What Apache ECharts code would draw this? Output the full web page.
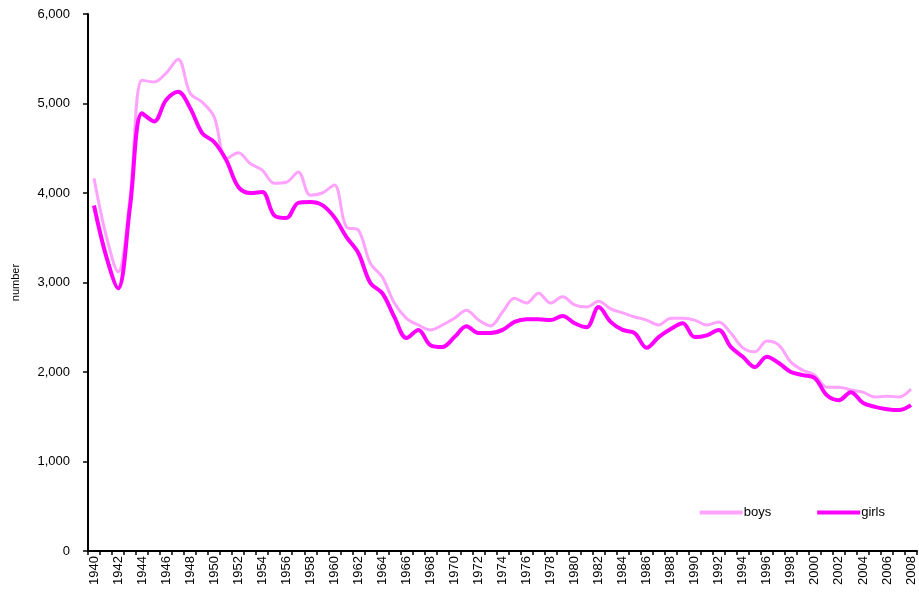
<!DOCTYPE html>
<html>
<head>
<meta charset="utf-8">
<script src="https://cdn.jsdelivr.net/npm/echarts@6/dist/echarts.min.js"></script>
<style>
  html, body { margin: 0; padding: 0; background: #fff; }
  #main { width: 919px; height: 596px; }
</style>
</head>
<body>
<div id="main"></div>
<script>
// years on the x axis
var years = [];
for (var y = 1940; y <= 2008; y++) { years.push(String(y)); }

// values
var boys = [4165, 3530, 3120, 3950, 5260, 5240, 5340, 5495, 5115, 5015,
            4850, 4380, 4450, 4330, 4255, 4110, 4120, 4235, 3975, 4000,
            4090, 3620, 3585, 3215, 3060, 2770, 2600, 2525, 2470, 2525,
            2600, 2690, 2580, 2515, 2670, 2825, 2770, 2880, 2770, 2840,
            2750, 2725, 2790, 2705, 2660, 2615, 2580, 2525, 2600, 2600,
            2580, 2525, 2560, 2435, 2270, 2225, 2345, 2300, 2110, 2020,
            1965, 1830, 1830, 1800, 1775, 1720, 1730, 1720, 1810];
var girls = [3860, 3300, 2935, 3850, 4890, 4800, 5040, 5130, 4950, 4670,
             4570, 4370, 4070, 4000, 4010, 3750, 3720, 3890, 3900, 3865,
             3730, 3510, 3330, 2995, 2880, 2615, 2380, 2470, 2300, 2280,
             2390, 2510, 2435, 2435, 2470, 2560, 2590, 2590, 2580, 2625,
             2545, 2500, 2725, 2560, 2470, 2435, 2270, 2390, 2480, 2545,
             2390, 2410, 2470, 2280, 2170, 2055, 2170, 2100, 2000, 1965,
             1930, 1740, 1685, 1775, 1655, 1610, 1585, 1575, 1630];

var chart = echarts.init(document.getElementById('main'));
var font = 'Liberation Sans, Arial, sans-serif';

chart.setOption({
    animation: false,
    grid: { left: 88, right: 2, top: 14, bottom: 45, outerBoundsMode: 'none', containLabel: false },
    legend: {
        right: 29,
        top: 501,
        icon: 'rect',
        itemWidth: 43,
        itemHeight: 4,
        itemGap: 46,
        textStyle: { color: '#000', fontSize: 13, fontFamily: font, padding: [0, 0, 0, -4] },
        data: ['boys', 'girls']
    },
    xAxis: {
        type: 'category',
        data: years,
        boundaryGap: true,
        axisLine: { lineStyle: { color: '#000', width: 2 } },
        axisTick: { show: true, length: 4, interval: 0, lineStyle: { color: '#000', width: 1.5 } },
        axisLabel: { interval: 1, rotate: 90, margin: 5, fontSize: 13, color: '#000', fontFamily: font },
        splitLine: { show: false }
    },
    yAxis: {
        type: 'value',
        min: 0,
        max: 6000,
        interval: 1000,
        name: 'number',
        nameLocation: 'middle',
        nameGap: 67,
        nameRotate: 90,
        nameTextStyle: { color: '#000', fontSize: 11, fontFamily: font },
        axisLine: { show: true, lineStyle: { color: '#000', width: 2 } },
        axisTick: { show: true, length: 5, lineStyle: { color: '#000', width: 1.5 } },
        axisLabel: {
            margin: 18, fontSize: 13, color: '#000', fontFamily: font,
            formatter: function (v) { return v.toLocaleString('en-US'); }
        },
        splitLine: { show: false }
    },
    series: [
        {
            name: 'boys', type: 'line', data: boys, smooth: 0.35,
            showSymbol: false, symbol: 'none',
            lineStyle: { color: '#FFA3FF', width: 3 },
            itemStyle: { color: '#FFA3FF' }
        },
        {
            name: 'girls', type: 'line', data: girls, smooth: 0.35,
            showSymbol: false, symbol: 'none',
            lineStyle: { color: '#FF00FF', width: 4 },
            itemStyle: { color: '#FF00FF' }
        }
    ]
});
</script>
</body>
</html>
